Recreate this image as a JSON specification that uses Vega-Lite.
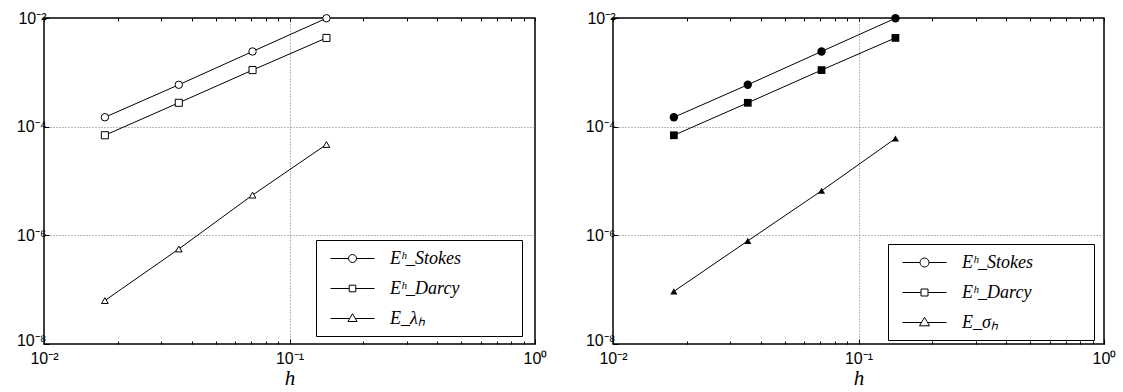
{
  "$schema": "https://vega.github.io/schema/vega-lite/v6.json",
  "padding": {"left": 15, "top": 9, "right": 2, "bottom": 0},
  "autosize": {"type": "pad"},
  "datasets": {
    "left": [
      {"h": 0.0177, "err": 1.49e-4, "series": "Eʰ_Stokes"},
      {"h": 0.0354, "err": 5.9e-4, "series": "Eʰ_Stokes"},
      {"h": 0.0707, "err": 2.42e-3, "series": "Eʰ_Stokes"},
      {"h": 0.1414, "err": 9.9e-3, "series": "Eʰ_Stokes"},
      {"h": 0.0177, "err": 6.95e-5, "series": "Eʰ_Darcy"},
      {"h": 0.0354, "err": 2.75e-4, "series": "Eʰ_Darcy"},
      {"h": 0.0707, "err": 1.1e-3, "series": "Eʰ_Darcy"},
      {"h": 0.1414, "err": 4.3e-3, "series": "Eʰ_Darcy"},
      {"h": 0.0177, "err": 6.3e-8, "series": "E_λₕ"},
      {"h": 0.0354, "err": 5.6e-7, "series": "E_λₕ"},
      {"h": 0.0707, "err": 5.5e-6, "series": "E_λₕ"},
      {"h": 0.1414, "err": 4.7e-5, "series": "E_λₕ"}
    ],
    "right": [
      {"h": 0.0177, "err": 1.49e-4, "series": "Eʰ_Stokes"},
      {"h": 0.0354, "err": 5.9e-4, "series": "Eʰ_Stokes"},
      {"h": 0.0707, "err": 2.42e-3, "series": "Eʰ_Stokes"},
      {"h": 0.1414, "err": 9.9e-3, "series": "Eʰ_Stokes"},
      {"h": 0.0177, "err": 6.95e-5, "series": "Eʰ_Darcy"},
      {"h": 0.0354, "err": 2.75e-4, "series": "Eʰ_Darcy"},
      {"h": 0.0707, "err": 1.1e-3, "series": "Eʰ_Darcy"},
      {"h": 0.1414, "err": 4.3e-3, "series": "Eʰ_Darcy"},
      {"h": 0.0177, "err": 9.3e-8, "series": "E_σₕ"},
      {"h": 0.0354, "err": 7.9e-7, "series": "E_σₕ"},
      {"h": 0.0707, "err": 6.6e-6, "series": "E_σₕ"},
      {"h": 0.1414, "err": 6.07e-5, "series": "E_σₕ"}
    ]
  },
  "spacing": 36,
  "hconcat": [
    {
      "width": 491,
      "height": 326,
      "data": {"name": "left"},
      "layer": [
        {
          "mark": {"type": "line", "color": "black", "strokeWidth": 1},
          "encoding": {
            "x": {"field": "h", "type": "quantitative", "scale": {"type": "log", "domain": [0.01, 1], "nice": false},
              "axis": {
                "orient": "bottom", "title": "h", "domain": false,
                "values": [0.01, 0.02, 0.03, 0.04, 0.05, 0.06, 0.07, 0.08, 0.09, 0.1, 0.2, 0.3, 0.4, 0.5, 0.6, 0.7, 0.8, 0.9, 1],
                "labelExpr": "abs(datum.value - 0.01) < 1e-6 ? '10⁻²' : abs(datum.value - 0.1) < 1e-6 ? '10⁻¹' : abs(datum.value - 1) < 1e-6 ? '10⁰' : ''",
                "labelFont": "Liberation Sans", "labelFontSize": 16, "labelColor": "black", "labelFlush": false, "labelOverlap": false, "labelPadding": 11,
                "ticks": true, "tickColor": "black", "tickWidth": 1,
                "tickSize": {"condition": {"test": "abs(datum.value - 0.01) < 1e-6 || abs(datum.value - 0.1) < 1e-6 || abs(datum.value - 1) < 1e-6", "value": -5}, "value": -3},
                "grid": true, "gridColor": "#777777", "gridDash": [1, 2], "gridWidth": 1,
                "gridOpacity": {"condition": {"test": "abs(datum.value - 0.1) < 1e-6", "value": 1}, "value": 0},
                "titleFont": "Liberation Serif", "titleFontStyle": "italic", "titleFontWeight": "normal", "titleFontSize": 21, "titleColor": "black", "titlePadding": -1
              }},
            "y": {"field": "err", "type": "quantitative", "scale": {"type": "log", "domain": [1e-8, 1e-2], "nice": false},
              "axis": {
                "orient": "left", "title": null, "domain": false,
                "values": [1e-8, 1e-6, 1e-4, 1e-2],
                "labelExpr": "datum.value < 1e-7 ? '10⁻⁸' : datum.value < 1e-5 ? '10⁻⁶' : datum.value < 1e-3 ? '10⁻⁴' : '10⁻²'",
                "labelFont": "Liberation Sans", "labelFontSize": 16, "labelColor": "black", "labelFlush": false, "labelOverlap": false, "labelPadding": 3,
                "labelOffset": {"condition": {"test": "datum.value < 1e-7", "value": -4}, "value": 0},
                "ticks": true, "tickColor": "black", "tickWidth": 1, "tickSize": -5,
                "grid": true, "gridColor": "#777777", "gridDash": [1, 2], "gridWidth": 1,
                "gridOpacity": {"condition": {"test": "datum.value > 5e-7 && datum.value < 5e-3", "value": 1}, "value": 0}
              }},
            "detail": {"field": "series"}
          }
        },
        {
          "mark": {"type": "point", "filled": true, "fill": "white", "stroke": "black", "strokeWidth": 1, "opacity": 1},
          "encoding": {
            "x": {"field": "h", "type": "quantitative", "scale": {"type": "log", "domain": [0.01, 1], "nice": false}, "axis": null},
            "y": {"field": "err", "type": "quantitative", "scale": {"type": "log", "domain": [1e-8, 1e-2], "nice": false}, "axis": null},
            "shape": {"field": "series", "type": "nominal", "scale": {"domain": ["Eʰ_Stokes", "Eʰ_Darcy", "E_λₕ"], "range": ["circle", "square", "triangle-up"]}, "legend": null},
            "size": {"field": "series", "type": "nominal", "scale": {"domain": ["Eʰ_Stokes", "Eʰ_Darcy", "E_λₕ"], "range": [55, 45, 110]}, "legend": null}
          }
        },
        {
          "mark": {"type": "point", "opacity": 0},
          "encoding": {
            "x": {"field": "h", "type": "quantitative", "scale": {"type": "log", "domain": [0.01, 1], "nice": false},
              "axis": {"orient": "top", "labels": false, "grid": false, "title": null, "domain": false,
                "values": [0.01, 0.02, 0.03, 0.04, 0.05, 0.06, 0.07, 0.08, 0.09, 0.1, 0.2, 0.3, 0.4, 0.5, 0.6, 0.7, 0.8, 0.9, 1],
                "ticks": true, "tickColor": "black", "tickWidth": 1, "tickSize": -3}},
            "y": {"field": "err", "type": "quantitative", "scale": {"type": "log", "domain": [1e-8, 1e-2], "nice": false}, "axis": null},
            "shape": {"field": "series", "type": "nominal",
              "scale": {"domain": ["Eʰ_Stokes", "Eʰ_Darcy", "E_λₕ"],
                "range": ["M-2.2,0H-0.4M0.4,0H2.2M-0.4,0A0.4,0.4,0,1,0,0.4,0A0.4,0.4,0,1,0,-0.4,0Z",
                          "M-2.2,0H-0.33M0.33,0H2.2M-0.33,-0.33H0.33V0.33H-0.33Z",
                          "M-2.2,0H-0.29M0.29,0H2.2M0,-0.48L0.46,0.3H-0.46Z"]},
              "legend": {"orient": "none", "legendX": 272, "legendY": 222, "symbolFillColor": "white",
                "labelExpr": "datum.label + '\u2800\u2800\u2800\u2800'"}}
          }
        }
      ],
      "resolve": {"scale": {"shape": "independent", "size": "independent"}, "axis": {"x": "independent", "y": "independent"}}
    },
    {
      "width": 491,
      "height": 326,
      "data": {"name": "right"},
      "layer": [
        {
          "mark": {"type": "line", "color": "black", "strokeWidth": 1},
          "encoding": {
            "x": {"field": "h", "type": "quantitative", "scale": {"type": "log", "domain": [0.01, 1], "nice": false},
              "axis": {
                "orient": "bottom", "title": "h", "domain": false,
                "values": [0.01, 0.02, 0.03, 0.04, 0.05, 0.06, 0.07, 0.08, 0.09, 0.1, 0.2, 0.3, 0.4, 0.5, 0.6, 0.7, 0.8, 0.9, 1],
                "labelExpr": "abs(datum.value - 0.01) < 1e-6 ? '10⁻²' : abs(datum.value - 0.1) < 1e-6 ? '10⁻¹' : abs(datum.value - 1) < 1e-6 ? '10⁰' : ''",
                "labelFont": "Liberation Sans", "labelFontSize": 16, "labelColor": "black", "labelFlush": false, "labelOverlap": false, "labelPadding": 11,
                "ticks": true, "tickColor": "black", "tickWidth": 1,
                "tickSize": {"condition": {"test": "abs(datum.value - 0.01) < 1e-6 || abs(datum.value - 0.1) < 1e-6 || abs(datum.value - 1) < 1e-6", "value": -5}, "value": -3},
                "grid": true, "gridColor": "#777777", "gridDash": [1, 2], "gridWidth": 1,
                "gridOpacity": {"condition": {"test": "abs(datum.value - 0.1) < 1e-6", "value": 1}, "value": 0},
                "titleFont": "Liberation Serif", "titleFontStyle": "italic", "titleFontWeight": "normal", "titleFontSize": 21, "titleColor": "black", "titlePadding": -1
              }},
            "y": {"field": "err", "type": "quantitative", "scale": {"type": "log", "domain": [1e-8, 1e-2], "nice": false},
              "axis": {
                "orient": "left", "title": null, "domain": false,
                "values": [1e-8, 1e-6, 1e-4, 1e-2],
                "labelExpr": "datum.value < 1e-7 ? '10⁻⁸' : datum.value < 1e-5 ? '10⁻⁶' : datum.value < 1e-3 ? '10⁻⁴' : '10⁻²'",
                "labelFont": "Liberation Sans", "labelFontSize": 16, "labelColor": "black", "labelFlush": false, "labelOverlap": false, "labelPadding": 3,
                "labelOffset": {"condition": {"test": "datum.value < 1e-7", "value": -4}, "value": 0},
                "ticks": true, "tickColor": "black", "tickWidth": 1, "tickSize": -5,
                "grid": true, "gridColor": "#777777", "gridDash": [1, 2], "gridWidth": 1,
                "gridOpacity": {"condition": {"test": "datum.value > 5e-7 && datum.value < 5e-3", "value": 1}, "value": 0}
              }},
            "detail": {"field": "series"}
          }
        },
        {
          "mark": {"type": "point", "filled": true, "color": "black", "opacity": 1},
          "encoding": {
            "x": {"field": "h", "type": "quantitative", "scale": {"type": "log", "domain": [0.01, 1], "nice": false}, "axis": null},
            "y": {"field": "err", "type": "quantitative", "scale": {"type": "log", "domain": [1e-8, 1e-2], "nice": false}, "axis": null},
            "shape": {"field": "series", "type": "nominal", "scale": {"domain": ["Eʰ_Stokes", "Eʰ_Darcy", "E_σₕ"], "range": ["circle", "square", "triangle-up"]}, "legend": null},
            "size": {"field": "series", "type": "nominal", "scale": {"domain": ["Eʰ_Stokes", "Eʰ_Darcy", "E_σₕ"], "range": [70, 50, 140]}, "legend": null}
          }
        },
        {
          "mark": {"type": "point", "opacity": 0},
          "encoding": {
            "x": {"field": "h", "type": "quantitative", "scale": {"type": "log", "domain": [0.01, 1], "nice": false},
              "axis": {"orient": "top", "labels": false, "grid": false, "title": null, "domain": false,
                "values": [0.01, 0.02, 0.03, 0.04, 0.05, 0.06, 0.07, 0.08, 0.09, 0.1, 0.2, 0.3, 0.4, 0.5, 0.6, 0.7, 0.8, 0.9, 1],
                "ticks": true, "tickColor": "black", "tickWidth": 1, "tickSize": -3}},
            "y": {"field": "err", "type": "quantitative", "scale": {"type": "log", "domain": [1e-8, 1e-2], "nice": false}, "axis": null},
            "shape": {"field": "series", "type": "nominal",
              "scale": {"domain": ["Eʰ_Stokes", "Eʰ_Darcy", "E_σₕ"],
                "range": ["M-2.2,0H-0.45M0.45,0H2.2M-0.45,0A0.45,0.45,0,1,0,0.45,0A0.45,0.45,0,1,0,-0.45,0Z",
                          "M-2.2,0H-0.35M0.35,0H2.2M-0.35,-0.35H0.35V0.35H-0.35Z",
                          "M-2.2,0H-0.3M0.3,0H2.2M0,-0.52L0.5,0.33H-0.5Z"]},
              "legend": {"orient": "none", "legendX": 275, "legendY": 226, "symbolFillColor": "black",
                "labelExpr": "datum.label + '\u2800\u2800\u2800\u2800'"}}
          }
        }
      ],
      "resolve": {"scale": {"shape": "independent", "size": "independent"}, "axis": {"x": "independent", "y": "independent"}}
    }
  ],
  "resolve": {"scale": {"shape": "independent", "size": "independent"}, "legend": {"shape": "independent"}},
  "config": {
    "font": "Liberation Sans",
    "view": {"stroke": "black", "strokeWidth": 1.5},
    "legend": {
      "title": null,
      "padding": 8,
      "fillColor": "white",
      "strokeColor": "black",
      "strokeWidth": 1,
      "symbolSize": 400,
      "symbolOffset": 18,
      "symbolStrokeColor": "black",
      "symbolStrokeWidth": 1,
      "symbolOpacity": 1,
      "labelFont": "Liberation Serif",
      "labelFontStyle": "italic",
      "labelFontSize": 18,
      "labelColor": "black",
      "labelOffset": 27,
      "labelLimit": 300,
      "rowPadding": 10
    }
  }
}
